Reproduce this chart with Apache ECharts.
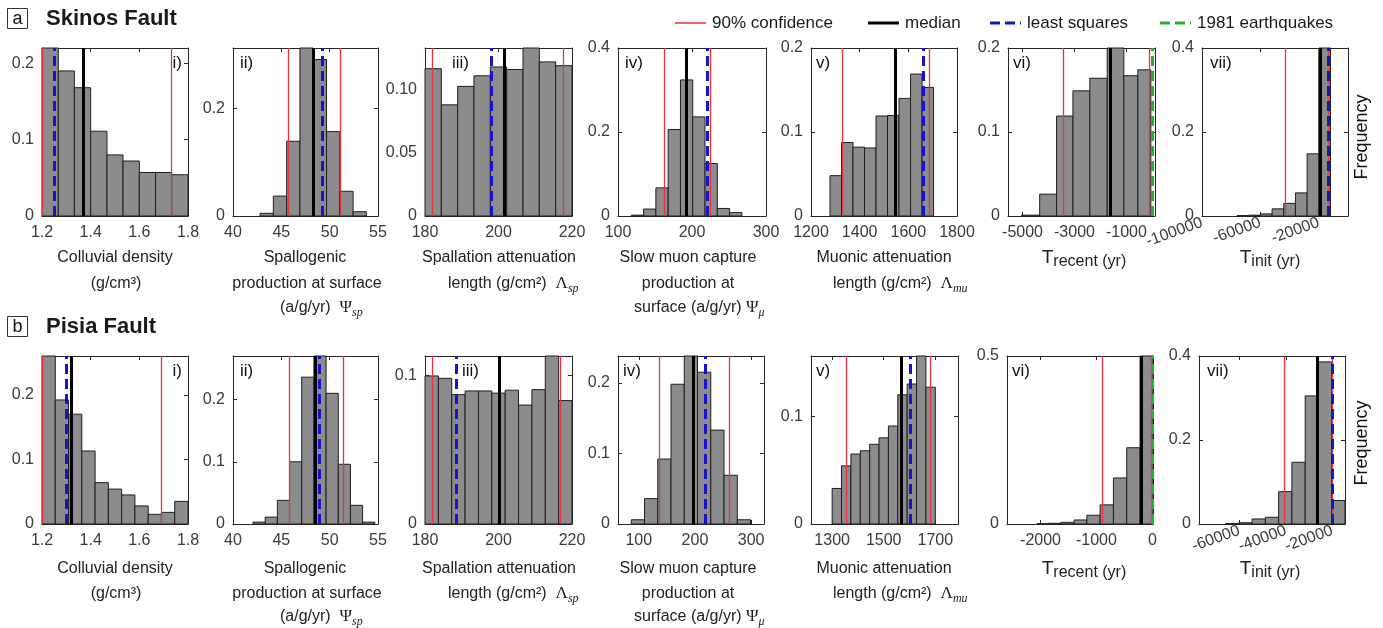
<!DOCTYPE html>
<html>
<head>
<meta charset="utf-8">
<script src="https://cdn.jsdelivr.net/npm/echarts@6/dist/echarts.min.js"></script>
<style>
html, body { margin: 0; padding: 0; background: #fff; }
#chart { width: 1383px; height: 628px; }
</style>
</head>
<body>
<div id="chart"></div>
<script>
// panels: a i..vii (Skinos), then b i..vii (Pisia)
// histogram bin edges + frequencies
const a1Edges = [1.2, 1.267, 1.333, 1.4, 1.467, 1.533, 1.6, 1.667, 1.733, 1.8];
const a1Freq  = [0.23, 0.19, 0.168, 0.111, 0.080, 0.072, 0.057, 0.057, 0.054];
const a2Edges = [42.8, 44.175, 45.55, 46.925, 48.3, 49.675, 51.05, 52.425, 53.8];
const a2Freq  = [0.005, 0.037, 0.139, 0.33, 0.291, 0.157, 0.046, 0.008];
const a3Edges = [180, 184.44, 188.89, 193.33, 197.78, 202.22, 206.67, 211.11, 215.56, 220];
const a3Freq  = [0.1166, 0.088, 0.1026, 0.111, 0.118, 0.116, 0.14, 0.122, 0.119];
const a4Edges = [118, 134.6, 151.2, 167.8, 184.4, 201, 217.6, 234.2, 250.8, 267.4];
const a4Freq  = [0.002, 0.0165, 0.067, 0.206, 0.324, 0.236, 0.125, 0.018, 0.008];
const a5Edges = [1278, 1325.3, 1372.6, 1419.9, 1467.2, 1514.5, 1561.8, 1609.1, 1656.4, 1703.7];
const a5Freq  = [0.048, 0.0875, 0.082, 0.081, 0.119, 0.1196, 0.14, 0.169, 0.153];
const a6Edges = [-5040, -4340, -3690, -3060, -2410, -1740, -1100, -560, -60];
const a6Freq  = [0.001, 0.026, 0.119, 0.149, 0.164, 0.21, 0.167, 0.174];
const a7Edges = [-76000, -68000, -60000, -52000, -44000, -36000, -28000, -20000, -12000];
const a7Freq  = [0.001, 0.002, 0.005, 0.017, 0.03, 0.055, 0.148, 0.75];

const b1Edges = [1.2, 1.2545, 1.3091, 1.3636, 1.4182, 1.4727, 1.5273, 1.5818, 1.6364, 1.6909, 1.7455, 1.8];
const b1Freq  = [0.27, 0.192, 0.17, 0.113, 0.064, 0.054, 0.045, 0.028, 0.015, 0.018, 0.035];
const b2Edges = [42.07, 43.33, 44.59, 45.85, 47.11, 48.37, 49.63, 50.89, 52.15, 53.41, 54.67];
const b2Freq  = [0.003, 0.011, 0.038, 0.1, 0.236, 0.28, 0.21, 0.096, 0.03, 0.003];
const b3Edges = [180, 183.64, 187.27, 190.91, 194.55, 198.18, 201.82, 205.45, 209.09, 212.73, 216.36, 220];
const b3Freq  = [0.0996, 0.098, 0.087, 0.0895, 0.0895, 0.088, 0.09, 0.08, 0.0904, 0.12, 0.083];
const b4Edges = [86.6, 110.2, 133.8, 157.4, 181, 204.6, 228.2, 251.8, 275.4, 299];
const b4Freq  = [0.006, 0.036, 0.092, 0.198, 0.25, 0.215, 0.133, 0.069, 0.006];
const b5Edges = [1300, 1336.4, 1372.7, 1409.1, 1445.5, 1481.8, 1518.2, 1554.5, 1590.9, 1627.3, 1663.6, 1700];
const b5Freq  = [0.033, 0.054, 0.065, 0.068, 0.074, 0.080, 0.091, 0.120, 0.130, 0.165, 0.127];
const b6Edges = [-2065, -1857, -1636, -1398, -1171, -934, -696, -458, -220, 12];
const b6Freq  = [0.001, 0.002, 0.005, 0.012, 0.026, 0.057, 0.137, 0.227, 0.55];
const b7Edges = [-65900, -60200, -54500, -48800, -43100, -37400, -31700, -26000, -20300, -14600];
const b7Freq  = [0.001, 0.003, 0.012, 0.016, 0.077, 0.147, 0.305, 0.386, 0.056];

// vertical markers per panel
const confLow  = [1.204, 45.7, 182.1, 162, 1329, -3450, -43000, 1.204, 45.8, 182.1, 137.3, 1354, -904, -40860];
const confHigh = [1.731, 51.1, 217.7, 224.4, 1688, -105, -13700, 1.69, 51.45, 216.8, 261.8, 1680, -15, -20200];
const medians  = [1.368, 48.34, 201.5, 192.8, 1546, -1640, -19200, 1.32, 48.55, 200.3, 197.8, 1568, -190, -26400];
const leastSq  = [1.245, 49.25, 198.0, 220.8, 1660, null, -13700, 1.297, 48.9, 188.4, 219, 1603, null, -20100];
const quake1981 = [null, null, null, null, null, 10, null, null, null, null, null, null, -10, null];

// axis ranges and ticks
const xMin = [1.2, 40, 180, 100, 1200, -5560, -100000, 1.2, 40, 180, 63, 1218, -2600, -77300];
const xMax = [1.8, 55, 220, 300, 1800, 100, 0, 1.8, 55, 220, 323, 1788, 12, -14600];
const xTicks = [
  [1.2, 1.4, 1.6, 1.8], [40, 45, 50, 55], [180, 200, 220], [100, 200, 300],
  [1200, 1400, 1600, 1800], [-5000, -3000, -1000], [-100000, -60000, -20000],
  [1.2, 1.4, 1.6, 1.8], [40, 45, 50, 55], [180, 200, 220], [100, 200, 300],
  [1300, 1500, 1700], [-2000, -1000, 0], [-60000, -40000, -20000]
];
const yMax = [0.22, 0.3125, 0.133, 0.4, 0.2, 0.2, 0.4, 0.26, 0.27, 0.113, 0.238, 0.156, 0.5, 0.4];
const yTicks = [
  [0, 0.1, 0.2], [0, 0.2], [0, 0.05, 0.1], [0, 0.2, 0.4], [0, 0.1, 0.2], [0, 0.1, 0.2], [0, 0.2, 0.4],
  [0, 0.1, 0.2], [0, 0.1, 0.2], [0, 0.1], [0, 0.1, 0.2], [0, 0.1], [0, 0.5], [0, 0.2, 0.4]
];
const panelLabels = ['i)', 'ii)', 'iii)', 'iv)', 'v)', 'vi)', 'vii)'];

const edges = [a1Edges, a2Edges, a3Edges, a4Edges, a5Edges, a6Edges, a7Edges,
               b1Edges, b2Edges, b3Edges, b4Edges, b5Edges, b6Edges, b7Edges];
const freqs = [a1Freq, a2Freq, a3Freq, a4Freq, a5Freq, a6Freq, a7Freq,
               b1Freq, b2Freq, b3Freq, b4Freq, b5Freq, b6Freq, b7Freq];

// layout
const FONT = 'Liberation Sans';
const AX = '#262626';
const rowTop = [48, 356];
const colLeft = [[42, 233, 425, 618, 811, 1008, 1202], [42, 233, 425, 618, 811, 1007, 1199]];
const colWidth = [[146, 145, 147, 148, 146, 147, 146], [146, 145, 147, 146, 147, 146, 146]];
const labelDx = [[-6, 7, 27, 7, 5, 5, 8], [-6, 7, 37, 5, 5, 5, 8]];
const panelH = 168;

function renderBar(params, api) {
  let p0 = api.coord([api.value(0), 0]);
  let p1 = api.coord([api.value(1), api.value(2)]);
  let rect = echarts.graphic.clipRectByRect({
    x: p0[0], y: p1[1], width: p1[0] - p0[0], height: p0[1] - p1[1]
  }, {
    x: params.coordSys.x, y: params.coordSys.y,
    width: params.coordSys.width, height: params.coordSys.height
  });
  return rect && {
    type: 'rect', shape: rect,
    style: { fill: '#8c8c8c', stroke: '#1e1e1e', lineWidth: 1 }
  };
}

let grid = [], xAxis = [], yAxis = [], series = [];
for (let p = 0; p < 14; p++) {
  let row = p < 7 ? 0 : 1, col = p % 7;
  grid.push({ left: colLeft[row][col], top: rowTop[row], width: colWidth[row][col], height: panelH });
  let rot = col === 6 ? 20 : 0;
  xAxis.push({
    type: 'value', gridIndex: p, min: xMin[p], max: xMax[p], position: 'bottom',
    axisLine: { onZero: false, lineStyle: { color: AX } },
    axisTick: { inside: true, length: 4, customValues: xTicks[p], lineStyle: { color: AX } },
    axisLabel: { customValues: xTicks[p], rotate: rot, margin: rot ? 6 : 9, fontSize: 16, fontFamily: FONT,
                 color: '#3a3a3a', formatter: function (v) { return String(v); } },
    splitLine: { show: false }
  });
  xAxis.push({
    type: 'value', gridIndex: p, min: xMin[p], max: xMax[p], position: 'top',
    axisLine: { onZero: false, lineStyle: { color: AX } },
    axisTick: { inside: true, length: 4, customValues: xTicks[p], lineStyle: { color: AX } },
    axisLabel: { show: false }, splitLine: { show: false }
  });
  let twoDigits = p === 2;
  yAxis.push({
    type: 'value', gridIndex: p, min: 0, max: yMax[p], position: 'left',
    axisLine: { onZero: false, lineStyle: { color: AX } },
    axisTick: { inside: true, length: 4, customValues: yTicks[p], lineStyle: { color: AX } },
    axisLabel: { customValues: yTicks[p], margin: 8, fontSize: 16, fontFamily: FONT, color: '#3a3a3a',
                 formatter: function (v) { return v === 0 ? '0' : (twoDigits ? v.toFixed(2) : String(v)); } },
    splitLine: { show: false }
  });
  yAxis.push({
    type: 'value', gridIndex: p, min: 0, max: yMax[p], position: 'right',
    axisLine: { onZero: false, lineStyle: { color: AX } },
    axisTick: { inside: true, length: 4, customValues: yTicks[p], lineStyle: { color: AX } },
    axisLabel: { show: false }, splitLine: { show: false }
  });

  let marks = [];
  marks.push({ xAxis: confLow[p], lineStyle: { color: '#e8343a', width: 1.3, type: 'solid' } });
  marks.push({ xAxis: confHigh[p], lineStyle: { color: '#e8343a', width: 1.3, type: 'solid' } });
  marks.push({ xAxis: medians[p], lineStyle: { color: '#000', width: 3, type: 'solid' } });
  if (leastSq[p] !== null) marks.push({ xAxis: leastSq[p], lineStyle: { color: '#1414c8', width: 3, type: [10, 5] } });
  if (quake1981[p] !== null) marks.push({ xAxis: quake1981[p], lineStyle: { color: '#22b22e', width: 3, type: [10, 5] } });

  series.push({
    type: 'custom', xAxisIndex: 2 * p, yAxisIndex: 2 * p,
    data: freqs[p].map(function (v, i) { return [edges[p][i], edges[p][i + 1], v]; }),
    encode: { x: [0, 1], y: 2 },
    renderItem: renderBar, silent: true, animation: false,
    markLine: { silent: true, symbol: ['none', 'none'], label: { show: false }, animation: false, data: marks }
  });
}

// text furniture
const rich = {
  n: { fontSize: 16, fontFamily: FONT, fill: '#222', lineHeight: 22 },
  g: { fontSize: 17, fontFamily: 'Liberation Serif', fill: '#222', lineHeight: 22 },
  s: { fontSize: 12, fontFamily: 'Liberation Serif', fontStyle: 'italic', fill: '#222', lineHeight: 13, verticalAlign: 'bottom' },
  T: { fontSize: 19, fontFamily: FONT, fill: '#222', lineHeight: 24 },
  r: { fontSize: 16, fontFamily: FONT, fill: '#222', lineHeight: 18, verticalAlign: 'bottom' }
};
// [x, line, text, align]
const nameLines = [
  [115, 0, '{n|Colluvial density}', 'center'], [116, 1, '{n|(g/cm³)}', 'center'],
  [305, 0, '{n|Spallogenic}', 'center'], [307, 1, '{n|production at surface}', 'center'],
  [280, 2, '{n|(a/g/yr)  }{g|Ψ}{s|sp}', 'left'],
  [499, 0, '{n|Spallation attenuation}', 'center'], [448, 1, '{n|length (g/cm²)  }{g|Λ}{s|sp}', 'left'],
  [688, 0, '{n|Slow muon capture}', 'center'], [688, 1, '{n|production at}', 'center'],
  [634, 2, '{n|surface (a/g/yr) }{g|Ψ}{s|μ}', 'left'],
  [884, 0, '{n|Muonic attenuation}', 'center'], [833, 1, '{n|length (g/cm²)  }{g|Λ}{s|mu}', 'left'],
  [1084, 0, '{T|T}{r|recent (yr)}', 'center'],
  [1270, 0, '{T|T}{r|init (yr)}', 'center']
];
const nameY = [[258, 284, 308], [569, 594, 617]];

let graphic = [];
for (let row = 0; row < 2; row++) {
  nameLines.forEach(function (l) {
    graphic.push({ type: 'text', x: l[0], y: nameY[row][l[1]], silent: true,
      style: { text: l[2], rich: rich, align: l[3], verticalAlign: 'middle' } });
  });
  for (let col = 0; col < 7; col++) {
    let left = colLeft[row][col], w = colWidth[row][col];
    graphic.push({ type: 'text', x: col === 0 ? left + w + labelDx[row][col] : left + labelDx[row][col],
      y: rowTop[row] + 15, silent: true,
      style: { text: panelLabels[col], fontSize: 17, fontFamily: FONT, fill: '#111',
               align: col === 0 ? 'right' : 'left', verticalAlign: 'middle' } });
  }
  graphic.push({ type: 'text', x: 1362, y: row ? 443 : 137, rotation: Math.PI / 2, silent: true,
    style: { text: 'Frequency', fontSize: 18, fontFamily: FONT, fill: '#111', align: 'center', verticalAlign: 'middle' } });
}

// panel titles
[['a', 'Skinos Fault', 19], ['b', 'Pisia Fault', 327]].forEach(function (t) {
  graphic.push({ type: 'rect', shape: { x: 7.5, y: t[2] - 10.5, width: 20, height: 20 }, silent: true,
    style: { fill: 'none', stroke: '#333', lineWidth: 1 } });
  graphic.push({ type: 'text', x: 17.5, y: t[2], silent: true,
    style: { text: t[0], fontSize: 18, fontFamily: FONT, fill: '#111', align: 'center', verticalAlign: 'middle' } });
  graphic.push({ type: 'text', x: 46, y: t[2], silent: true,
    style: { text: t[1], fontSize: 22, fontWeight: 'bold', fontFamily: FONT, fill: '#1a1a1a', align: 'left', verticalAlign: 'middle' } });
});

// legend
const legendItems = [
  [675, '90% confidence', '#e8343a', 1.5, 'solid'],
  [868, 'median', '#000', 3, 'solid'],
  [990, 'least squares', '#1414c8', 3, [10, 5]],
  [1160, '1981 earthquakes', '#22b22e', 3, [10, 5]]
];
legendItems.forEach(function (it) {
  graphic.push({ type: 'line', shape: { x1: it[0], y1: 23, x2: it[0] + 31, y2: 23 }, silent: true,
    style: { stroke: it[2], lineWidth: it[3], lineDash: it[4] === 'solid' ? null : it[4] } });
  graphic.push({ type: 'text', x: it[0] + 37, y: 23, silent: true,
    style: { text: it[1], fontSize: 17, fontFamily: FONT, fill: '#1a1a1a', align: 'left', verticalAlign: 'middle' } });
});

let chart = echarts.init(document.getElementById('chart'));
chart.setOption({
  animation: false,
  backgroundColor: '#fff',
  grid: grid,
  xAxis: xAxis,
  yAxis: yAxis,
  series: series,
  graphic: graphic
});
</script>
</body>
</html>
